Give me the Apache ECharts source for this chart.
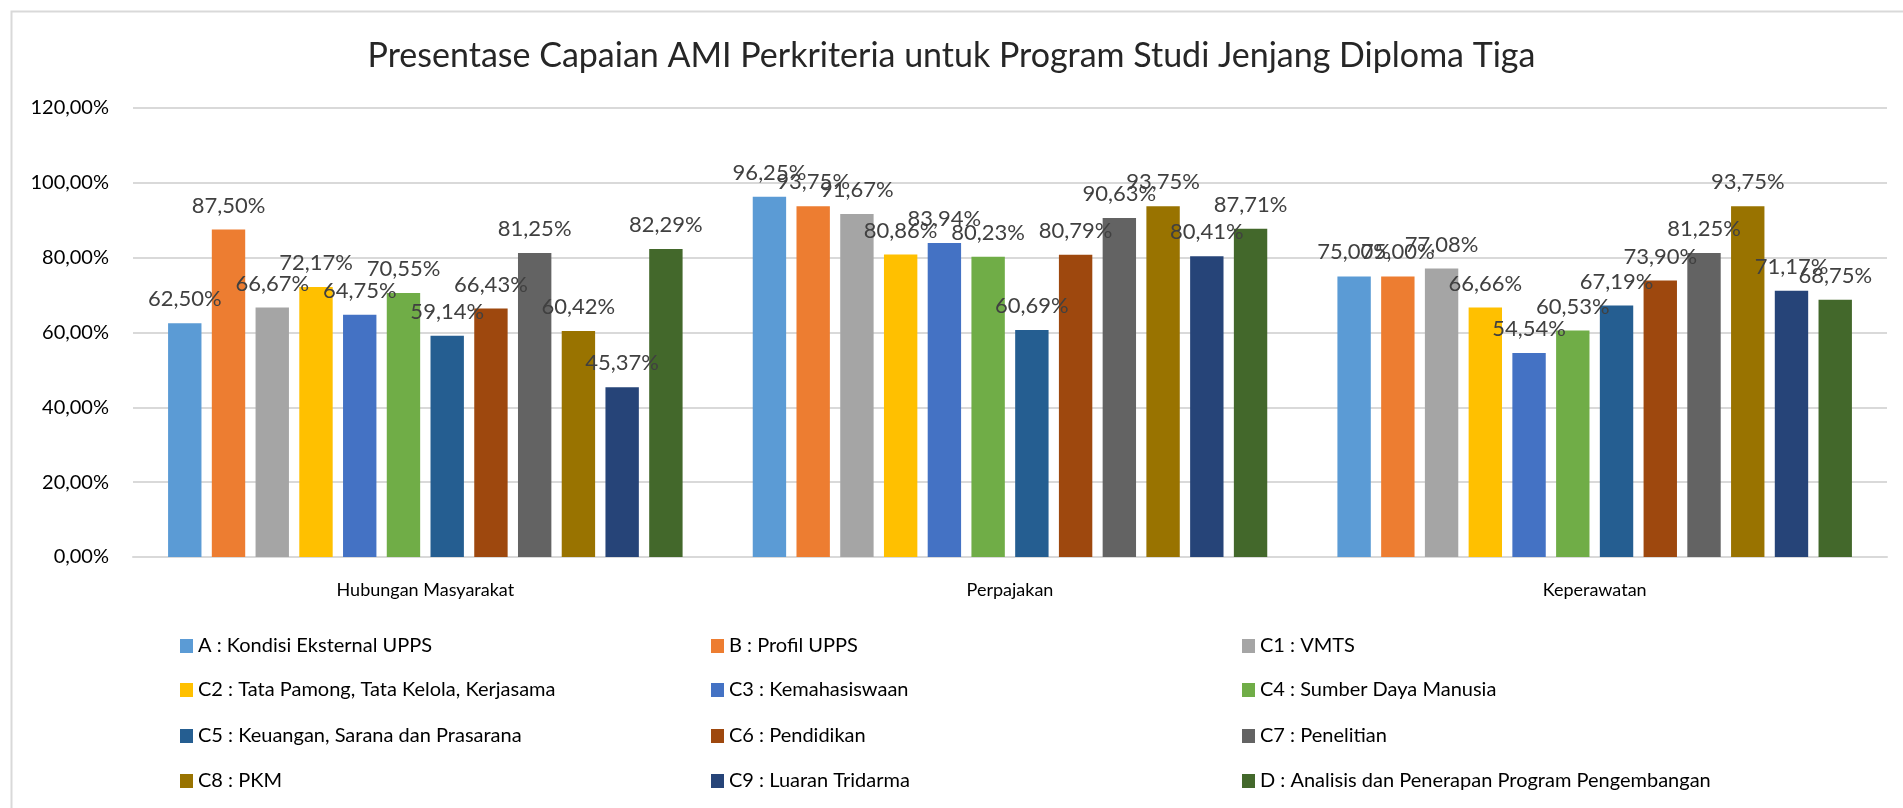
<!DOCTYPE html>
<html>
<head>
<meta charset="utf-8">
<title>Presentase Capaian AMI</title>
<script src="https://cdn.jsdelivr.net/npm/echarts@6/dist/echarts.min.js"></script>
<style>
    html, body { margin: 0; padding: 0; background: #fff; }
    #chart { width: 1903px; height: 808px; }
</style>
</head>
<body>
<div id="chart"></div>
<script>
// kategori (program studi)
var categories = ['Hubungan Masyarakat', 'Perpajakan', 'Keperawatan'];

// nama kriteria (seri)
var seriesNames = [
    'A : Kondisi Eksternal UPPS', 'B : Profil UPPS', 'C1 : VMTS',
    'C2 : Tata Pamong, Tata Kelola, Kerjasama', 'C3 : Kemahasiswaan', 'C4 : Sumber Daya Manusia',
    'C5 : Keuangan, Sarana dan Prasarana', 'C6 : Pendidikan', 'C7 : Penelitian',
    'C8 : PKM', 'C9 : Luaran Tridarma', 'D : Analisis dan Penerapan Program Pengembangan'
];

// nilai per prodi, urut sesuai seriesNames
var hubunganMasyarakat = [62.50, 87.50, 66.67, 72.17, 64.75, 70.55, 59.14, 66.43, 81.25, 60.42, 45.37, 82.29];
var perpajakan = [96.25, 93.75, 91.67, 80.86, 83.94, 80.23, 60.69, 80.79, 90.63, 93.75, 80.41, 87.71];
var keperawatan = [75.00, 75.00, 77.08, 66.66, 54.54, 60.53, 67.19, 73.90, 81.25, 93.75, 71.17, 68.75];

// tick sumbu Y
var yTicks = [0, 20, 40, 60, 80, 100, 120];

var colors = ['#5B9BD5', '#ED7D31', '#A5A5A5', '#FFC000', '#4472C4', '#70AD47',
              '#255E91', '#9E480E', '#636363', '#997300', '#264478', '#43682B'];

var FONT = 'Lato';

function pct(v) {
    return v.toFixed(2).replace('.', ',') + '%';
}

var chart = echarts.init(document.getElementById('chart'));

var series = seriesNames.map(function (name, i) {
    return {
        name: name,
        type: 'bar',
        barGap: '31%',
        barCategoryGap: '12%',
        itemStyle: { color: colors[i] },
        label: {
            show: true,
            position: 'top',
            distance: 13,
            color: '#404040',
            fontFamily: FONT,
            fontSize: 22,
            formatter: function (p) { return pct(p.value); }
        },
        data: [hubunganMasyarakat[i], perpajakan[i], keperawatan[i]]
    };
});

// legenda 3 kolom x 4 baris, satu legend per item supaya posisinya pas
var legendCols = [175, 706, 1237];
var legendRows = [631, 675, 721, 766];
var legends = seriesNames.map(function (name, i) {
    return {
        left: legendCols[i % 3],
        top: legendRows[Math.floor(i / 3)],
        itemWidth: 13,
        itemHeight: 14,
        icon: 'rect',
        selectedMode: false,
        textStyle: { fontFamily: FONT, fontSize: 20, color: '#000' },
        data: [name]
    };
});

var option = {
    animation: false,
    backgroundColor: '#fff',
    title: {
        text: 'Presentase Capaian AMI Perkriteria untuk Program Studi Jenjang Diploma Tiga',
        left: 'center',
        top: 34,
        textStyle: { fontFamily: FONT, fontSize: 34, fontWeight: 'normal', color: '#262626' }
    },
    legend: legends,
    grid: { left: 133, right: 16, top: 108, bottom: 251 },
    xAxis: {
        type: 'category',
        data: categories,
        axisTick: { show: false },
        axisLine: { lineStyle: { color: '#d9d9d9', width: 2 } },
        axisLabel: { fontFamily: FONT, fontSize: 18, color: '#000', margin: 24 }
    },
    yAxis: {
        type: 'value',
        min: yTicks[0],
        max: yTicks[yTicks.length - 1],
        interval: 20,
        axisLine: { show: false },
        axisTick: { show: false },
        splitLine: { lineStyle: { color: '#d9d9d9', width: 2 } },
        axisLabel: {
            fontFamily: FONT, fontSize: 20, color: '#000', margin: 24,
            formatter: function (v) { return pct(v); }
        }
    },
    graphic: [{
        type: 'rect',
        left: 9, top: 9,
        shape: { width: 1920, height: 820 },
        style: { fill: 'none', stroke: '#d9d9d9', lineWidth: 2 },
        silent: true
    }],
    series: series
};

chart.setOption(option);
window.addEventListener('resize', function () { chart.resize(); });
</script>
</body>
</html>
